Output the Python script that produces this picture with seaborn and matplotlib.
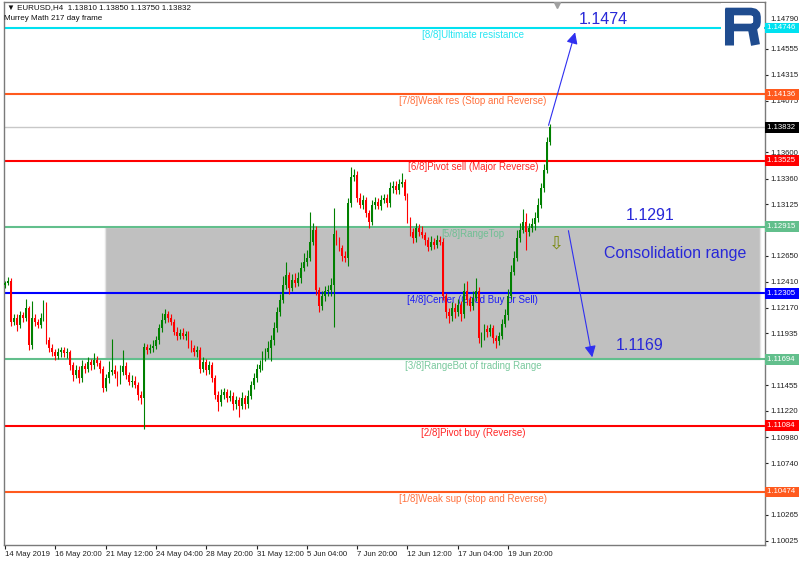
import numpy as np
import pandas as pd
import seaborn as sns
import matplotlib.pyplot as plt
from matplotlib.patches import Rectangle
from matplotlib.transforms import blended_transform_factory

# EURUSD H4 closes, one per bar (open = previous close)
first_open = 1.1238
closes = [
    1.1240, 1.1242, 1.1204, 1.1208, 1.1201, 1.1210, 1.1208, 1.1217, 1.1183, 1.1208,
    1.1204, 1.1201, 1.1208, 1.1220, 1.1187, 1.1180, 1.1176, 1.1173, 1.1176, 1.1178,
    1.1175, 1.1176, 1.1164, 1.1155, 1.1160, 1.1152, 1.1163, 1.1161, 1.1167, 1.1164,
    1.1169, 1.1166, 1.1161, 1.1143, 1.1152, 1.1158, 1.1160, 1.1156, 1.1150, 1.1158,
    1.1163, 1.1155, 1.1149, 1.1150, 1.1146, 1.1137, 1.1134, 1.1181, 1.1178, 1.1180,
    1.1182, 1.1187, 1.1198, 1.1206, 1.1211, 1.1208, 1.1204, 1.1195, 1.1191, 1.1194,
    1.1191, 1.1193, 1.1183, 1.1180, 1.1176, 1.1178, 1.1161, 1.1167, 1.1160, 1.1164,
    1.1152, 1.1137, 1.1130, 1.1137, 1.1139, 1.1134, 1.1136, 1.1128, 1.1132, 1.1127,
    1.1134, 1.1128, 1.1136, 1.1146, 1.1152, 1.1161, 1.1164, 1.1171, 1.1176, 1.1180,
    1.1187, 1.1198, 1.1213, 1.1224, 1.1238, 1.1247, 1.1235, 1.1243, 1.1240, 1.1244,
    1.1254, 1.1259, 1.1263, 1.1278, 1.1289, 1.1233, 1.1219, 1.1228, 1.1232, 1.1233,
    1.1238, 1.1285, 1.1279, 1.1272, 1.1265, 1.1263, 1.1313, 1.1337, 1.1339, 1.1318,
    1.1312, 1.1316, 1.1304, 1.1296, 1.1312, 1.1314, 1.1311, 1.1316, 1.1318, 1.1313,
    1.1327, 1.1329, 1.1325, 1.1331, 1.1333, 1.1320, 1.1298, 1.1287, 1.1281, 1.1290,
    1.1287, 1.1284, 1.1279, 1.1273, 1.1278, 1.1275, 1.1279, 1.1278, 1.1228, 1.1213,
    1.1209, 1.1217, 1.1213, 1.1220, 1.1211, 1.1232, 1.1224, 1.1219, 1.1226, 1.1232,
    1.1189, 1.1191, 1.1197, 1.1195, 1.1198, 1.1189, 1.1186, 1.1191, 1.1202, 1.1210,
    1.1228, 1.1250, 1.1263, 1.1281, 1.1289, 1.1296, 1.1287, 1.1290, 1.1294, 1.1300,
    1.1312, 1.1327, 1.1344, 1.1370, 1.1383,
]
# wick lengths in pips above / below the body
wick_up = [
    2, 3, 2, 3, 3, 4, 3, 8, 2, 15, 3, 3, 4, 4, 2, 3, 4, 3, 4, 3,
    3, 4, 2, 3, 4, 3, 6, 3, 5, 3, 6, 4, 3, 2, 4, 10, 28, 4, 3, 6,
    15, 4, 3, 5, 4, 3, 3, 4, 3, 4, 5, 4, 4, 6, 5, 3, 3, 3, 4, 3,
    4, 3, 3, 4, 3, 4, 3, 5, 3, 4, 3, 3, 3, 5, 4, 3, 5, 3, 4, 3,
    5, 3, 5, 4, 5, 4, 5, 6, 4, 6, 5, 6, 5, 6, 8, 12, 3, 5, 6, 6,
    5, 8, 7, 27, 6, 3, 3, 4, 5, 5, 6, 24, 4, 3, 3, 4, 5, 10, 6, 4,
    5, 5, 3, 3, 4, 5, 4, 5, 4, 4, 6, 5, 5, 5, 8, 3, 3, 3, 3, 5,
    4, 5, 3, 3, 5, 3, 5, 4, 3, 3, 4, 5, 4, 5, 3, 8, 10, 4, 6, 12,
    4, 4, 5, 4, 4, 3, 3, 4, 5, 6, 6, 6, 6, 8, 6, 12, 8, 5, 6, 5,
    6, 5, 5, 4, 3,
]
wick_dn = [
    3, 2, 4, 3, 5, 3, 4, 3, 5, 4, 4, 3, 3, 3, 3, 4, 3, 4, 3, 4,
    3, 4, 4, 5, 3, 4, 3, 4, 3, 4, 3, 3, 4, 4, 3, 4, 3, 4, 5, 3,
    3, 4, 3, 5, 3, 5, 6, 29, 4, 3, 4, 3, 3, 3, 3, 4, 3, 3, 4, 3,
    3, 4, 3, 4, 3, 4, 4, 3, 5, 4, 3, 4, 8, 3, 4, 4, 3, 5, 4, 11,
    3, 4, 3, 3, 4, 3, 3, 4, 3, 5, 12, 4, 3, 4, 3, 4, 5, 3, 4, 3,
    4, 3, 4, 3, 3, 4, 6, 4, 5, 4, 5, 39, 4, 3, 5, 4, 8, 3, 3, 4,
    3, 4, 3, 6, 3, 4, 3, 4, 3, 3, 3, 4, 3, 3, 3, 4, 3, 4, 4, 3,
    4, 3, 4, 4, 3, 4, 3, 3, 4, 5, 6, 4, 5, 4, 6, 3, 4, 5, 4, 3,
    4, 8, 4, 5, 4, 4, 6, 3, 3, 3, 4, 3, 3, 3, 3, 3, 17, 4, 3, 5,
    4, 3, 3, 3, 3,
]

# Murrey Math levels
levels = [1.14746, 1.14136, 1.13525, 1.12915, 1.12305, 1.11694, 1.11084, 1.10474]
level_names = ['[8/8]Ultimate resistance', '[7/8]Weak res (Stop and Reverse)',
               '[6/8]Pivot sell (Major Reverse)', '[5/8]RangeTop',
               '[4/8]Center (Good Buy or Sell)', '[3/8]RangeBot of trading Range',
               '[2/8]Pivot buy (Reverse)', '[1/8]Weak sup (stop and Reverse)']
level_colors = ['#00e1f0', '#ff5a1e', '#ff0000', '#62bf8c',
                '#0000ff', '#62bf8c', '#ff0000', '#ff5a1e']
last_price = 1.13832

# price scale labels that stay visible (the others sit under the level boxes)
ytick_values = [1.14790, 1.14555, 1.14315, 1.14075, 1.13600, 1.13360,
                1.13125, 1.12650, 1.12410, 1.12170, 1.11935,
                1.11455, 1.11220, 1.10980, 1.10740, 1.10265, 1.10025]
xtick_labels = ['14 May 2019', '16 May 20:00', '21 May 12:00', '24 May 04:00',
                '28 May 20:00', '31 May 12:00', '5 Jun 04:00', '7 Jun 20:00',
                '12 Jun 12:00', '17 Jun 04:00', '19 Jun 20:00']
xtick_bars = [0, 17, 34, 51, 68, 85, 102, 119, 136, 153, 170]

df = pd.DataFrame({'close': closes, 'up': wick_up, 'dn': wick_dn})
df['open'] = df['close'].shift(1).fillna(first_open)
df['high'] = df[['open', 'close']].max(axis=1) + df['up'] * 0.0001
df['low'] = df[['open', 'close']].min(axis=1) - df['dn'] * 0.0001
df['bar'] = np.arange(len(df))

sns.set_style('white')
plt.rcParams['font.family'] = ['Liberation Sans', 'DejaVu Sans']

fig = plt.figure(figsize=(8, 5.62), dpi=100)
ax = fig.add_axes([4 / 800, 17 / 562, 761 / 800, 543 / 562])
ax.set_xlim(-0.34, 256.8)
ax.set_ylim(1.09986, 1.14985)

# consolidation box
ax.add_patch(Rectangle((33.8, levels[5]), 255.1 - 33.8, levels[3] - levels[5],
                       facecolor='#c0c0c0', edgecolor='#e4e4e4', lw=1, zorder=1))

ax.axhline(last_price, color='#c8c8c8', lw=1, zorder=2)
for lv, name, col in zip(levels, level_names, level_colors):
    ax.axhline(lv, color=col, lw=1.5, zorder=2)
    ax.text(158.1, lv - 0.00017, name, color=col, fontsize=7, alpha=0.85,
            ha='center', va='top', zorder=2.5)

# candles
up = df['close'] >= df['open']
colors = np.where(up, '#008000', '#ff0000')
ax.vlines(df['bar'], df['low'], df['high'], colors=colors, lw=0.8, zorder=3)
body = (df['close'] - df['open']).abs().clip(lower=0.00006)
ax.bar(df['bar'], body, bottom=df[['open', 'close']].min(axis=1), width=0.62,
       color=colors, linewidth=0, zorder=3)

# annotations
blue = '#2828d8'
arrow = dict(arrowstyle='-|>', color='#2f2ff0', lw=0.8, mutation_scale=17)
ax.annotate('', xy=(192.9, 1.14730), xytext=(183.4, 1.13825), arrowprops=arrow, zorder=4)
ax.annotate('', xy=(198.6, 1.11689), xytext=(190.2, 1.12905), arrowprops=arrow, zorder=4)
ax.text(202, 1.14820, '1.1474', color=blue, fontsize=11.5, ha='center', va='center')
ax.text(218, 1.13024, '1.1291', color=blue, fontsize=11.5, ha='center', va='center')
ax.text(226.4, 1.12674, 'Consolidation range', color=blue, fontsize=11.5,
        ha='center', va='center', zorder=4)
ax.text(214.5, 1.11827, '1.1169', color=blue, fontsize=11.5, ha='center', va='center', zorder=4)
ax.text(186.5, 1.12766, '\u21e9', color='#7a8a10', fontsize=13, ha='center', va='center',
        family='DejaVu Sans', zorder=4)
ax.plot([186.5], [1.14955], marker='v', color='#a0a0a0', ms=5, zorder=4)

# right price scale
ax.yaxis.tick_right()
ax.set_yticks(ytick_values)
ax.set_yticklabels([f'{v:.5f}' for v in ytick_values])
ax.get_yticklabels()[0].set_va('bottom')
ax.set_xticks(xtick_bars)
ax.set_xticklabels(xtick_labels, ha='left')
ax.tick_params(axis='y', labelsize=5.6, length=2, pad=2, colors='#202020', right=True)
ax.tick_params(axis='x', labelsize=5.6, length=3, pad=1, colors='#202020', bottom=True)
for s in ax.spines.values():
    s.set_color('#7a7a7a')
    s.set_linewidth(1)

trans = blended_transform_factory(ax.transAxes, ax.transData)
box_levels = levels + [last_price]
box_colors = level_colors + ['#000000']
for lv, col in zip(box_levels, box_colors):
    ax.text(1.0025, lv, f'{lv:.5f}' + ' ', transform=trans, fontsize=5.6, color='white',
            ha='left', va='center', clip_on=False, zorder=6,
            bbox=dict(boxstyle='square,pad=0.25', facecolor=col, edgecolor='none'))

# header
fig.text(7 / 800, 1 - 8 / 562, '\u25bc EURUSD,H4  1.13810 1.13850 1.13750 1.13832',
         fontsize=5.8, color='#101010', va='center', ha='left')
fig.text(4 / 800, 1 - 19 / 562, 'Murrey Math 217 day frame', fontsize=5.8,
         color='#101010', va='center', ha='left')

# logo: blocky "R" on a white patch (local pixel coords, y down)
logo = fig.add_axes([721 / 800, 1 - 48 / 562, 43 / 800, 45 / 562], zorder=5)
logo.set_xlim(0, 43)
logo.set_ylim(45, 0)
logo.set_facecolor('white')
logo.axis('off')
logo.add_patch(Rectangle((0, 0), 43, 45, facecolor='white', edgecolor='none'))
navy = '#1f4c8f'
logo.plot([8, 8], [5, 42], color=navy, lw=6.5, solid_capstyle='butt')
bowl_x = [4.5, 30, 33.5, 35.5, 36, 36, 35.5, 33.5, 30, 11.5]
bowl_y = [8.5, 8.5, 9.3, 11.3, 14, 19, 21.7, 23.7, 24.5, 24.5]
logo.plot(bowl_x, bowl_y, color=navy, lw=5.5, solid_joinstyle='round', solid_capstyle='butt')
logo.plot([31.5, 34.5], [26, 42], color=navy, lw=6.5, solid_capstyle='butt')

fig.savefig('out.png', dpi=100, facecolor='white')
